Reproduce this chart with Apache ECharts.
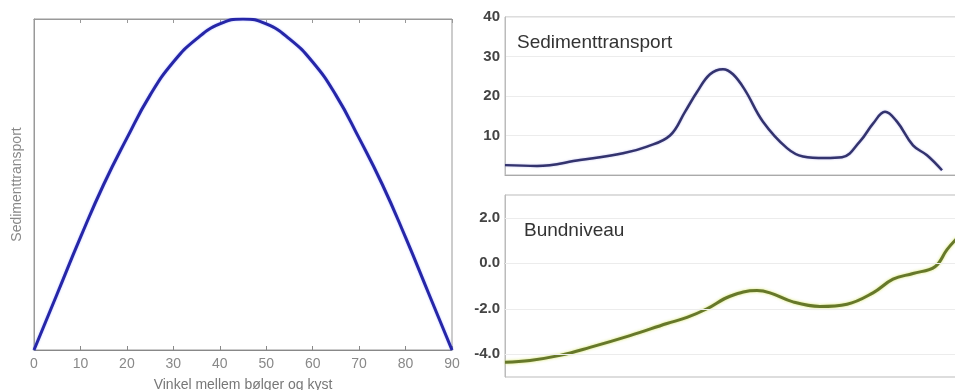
<!DOCTYPE html>
<html>
<head>
<meta charset="utf-8">
<script src="https://cdn.jsdelivr.net/npm/echarts@6/dist/echarts.min.js"></script>
<style>html,body{margin:0;padding:0;background:#fff}#c{width:955px;height:390px}</style>
</head>
<body>
<div id="c"></div>
<script>
// Left chart: transport vs. angle
const angleTicks = [0, 10, 20, 30, 40, 50, 60, 70, 80, 90];
const angles = [0, 5, 10, 15, 20, 25, 30, 35, 40, 45, 50, 55, 60, 65, 70, 75, 80, 85, 90];
const transport = [0, 0.17, 0.34, 0.50, 0.64, 0.77, 0.87, 0.94, 0.985, 1.0, 0.985, 0.94, 0.87, 0.77, 0.64, 0.50, 0.34, 0.17, 0];

// Top right: Sedimenttransport along coast
const sedX = [0, 32, 75, 118, 142, 165, 180, 192, 205, 218, 228, 240, 258, 282, 298, 320, 337, 355, 368, 380, 392, 408, 422, 437];
const sedY = [2.5, 2.3, 3.8, 5.5, 7.2, 10, 16, 21, 25.5, 26.8, 25.5, 21.5, 13.5, 6.8, 4.7, 4.3, 4.5, 8.5, 13, 16, 13.5, 7.5, 5, 1.2];
const sedTicks = [10, 20, 30, 40];

// Bottom right: Bundniveau along coast
const bundX = [0, 25, 55, 85, 125, 162, 182, 202, 225, 252, 265, 288, 315, 342, 368, 388, 408, 430, 442, 452];
const bundY = [-4.35, -4.27, -4.05, -3.7, -3.18, -2.65, -2.38, -2.0, -1.45, -1.2, -1.3, -1.7, -1.9, -1.8, -1.3, -0.7, -0.45, -0.15, 0.6, 1.1];
const bundTicks = [-4, -2, 0, 2];

const labelFont = 'Arial, "Liberation Sans", sans-serif';

const chart = echarts.init(document.getElementById('c'));
chart.setOption({
  animation: false,
  backgroundColor: '#fff',
  title: [
    {text: 'Sedimenttransport', left: 512, top: 28, textStyle: {fontFamily: labelFont, fontSize: 19, fontWeight: 'normal', color: '#333'}},
    {text: 'Bundniveau', left: 519, top: 216, textStyle: {fontFamily: labelFont, fontSize: 19, fontWeight: 'normal', color: '#333'}}
  ],
  grid: [
    {left: 34, top: 19, width: 418, height: 331, show: true, borderColor: '#999', borderWidth: 1, outerBoundsMode: 'none', containLabel: false},
    {left: 505, top: 17, width: 460, height: 158, show: true, borderColor: '#bbb', borderWidth: 1, outerBoundsMode: 'none', containLabel: false},
    {left: 505, top: 195, width: 460, height: 182, show: true, borderColor: '#bbb', borderWidth: 1, outerBoundsMode: 'none', containLabel: false}
  ],
  xAxis: [
    {gridIndex: 0, type: 'value', min: 0, max: 90, interval: 10, position: 'bottom',
     name: 'Vinkel mellem bølger og kyst', nameLocation: 'middle', nameGap: 28,
     nameTextStyle: {fontFamily: labelFont, fontSize: 14, color: '#777'},
     axisLine: {show: true, lineStyle: {color: '#888'}},
     axisTick: {show: true, inside: true, length: 4, lineStyle: {color: '#888'}},
     axisLabel: {fontFamily: labelFont, fontSize: 14, color: '#888', margin: 7},
     splitLine: {show: false}},
    {gridIndex: 0, type: 'value', min: 0, max: 90, interval: 10, position: 'top',
     axisLine: {show: true, lineStyle: {color: '#999'}},
     axisTick: {show: true, inside: true, length: 4, lineStyle: {color: '#999'}},
     axisLabel: {show: false}, splitLine: {show: false}},
    {gridIndex: 1, type: 'value', min: 0, max: 460,
     axisLine: {show: true, lineStyle: {color: '#aaa'}},
     axisTick: {show: false}, axisLabel: {show: false}, splitLine: {show: false}},
    {gridIndex: 2, type: 'value', min: 0, max: 460,
     axisLine: {show: true, lineStyle: {color: '#aaa'}},
     axisTick: {show: false}, axisLabel: {show: false}, splitLine: {show: false}}
  ],
  yAxis: [
    {gridIndex: 0, type: 'value', min: 0, max: 1,
     name: 'Sedimenttransport', nameLocation: 'middle', nameGap: 10, nameRotate: 90,
     nameTextStyle: {fontFamily: labelFont, fontSize: 14, color: '#888'},
     axisLine: {show: true, lineStyle: {color: '#999'}},
     axisTick: {show: false}, axisLabel: {show: false}, splitLine: {show: false}},
    {gridIndex: 1, type: 'value', min: 0, max: 40, interval: 10,
     axisLine: {show: true, lineStyle: {color: '#bbb'}},
     axisTick: {show: false},
     axisLabel: {fontFamily: labelFont, fontSize: 15, fontWeight: 'bold', color: '#444', margin: 5,
       formatter: v => sedTicks.includes(v) ? String(v) : ''},
     splitLine: {show: true, lineStyle: {color: '#ececec'}}},
    {gridIndex: 2, type: 'value', min: -5, max: 3, interval: 1,
     axisLine: {show: true, lineStyle: {color: '#bbb'}},
     axisTick: {show: false},
     axisLabel: {fontFamily: labelFont, fontSize: 15, fontWeight: 'bold', color: '#444', margin: 5,
       formatter: v => bundTicks.includes(v) ? v.toFixed(1) : ''},
     splitLine: {show: false}}
  ],
  series: [
    {type: 'line', xAxisIndex: 0, yAxisIndex: 0, smooth: true, symbol: 'none',
     data: angles.map((a, i) => [a, transport[i]]),
     lineStyle: {color: '#2626a8', width: 3, shadowColor: 'rgba(120,140,255,0.6)', shadowBlur: 2}},
    {type: 'line', xAxisIndex: 2, yAxisIndex: 1, smooth: 0.4, symbol: 'none',
     data: sedX.map((x, i) => [x, sedY[i]]),
     lineStyle: {color: '#33336e', width: 2.5, shadowColor: 'rgba(140,140,220,0.6)', shadowBlur: 2}},
    {type: 'line', xAxisIndex: 3, yAxisIndex: 2, smooth: 0.4, symbol: 'none',
     data: bundX.map((x, i) => [x, bundY[i]]),
     lineStyle: {color: '#66782a', width: 3, shadowColor: 'rgba(210,225,90,0.9)', shadowBlur: 3},
     markLine: {silent: true, symbol: 'none', label: {show: false},
       lineStyle: {color: '#ececec', type: 'solid', width: 1},
       data: bundTicks.map(v => ({yAxis: v}))}}
  ]
});
</script>
</body>
</html>
